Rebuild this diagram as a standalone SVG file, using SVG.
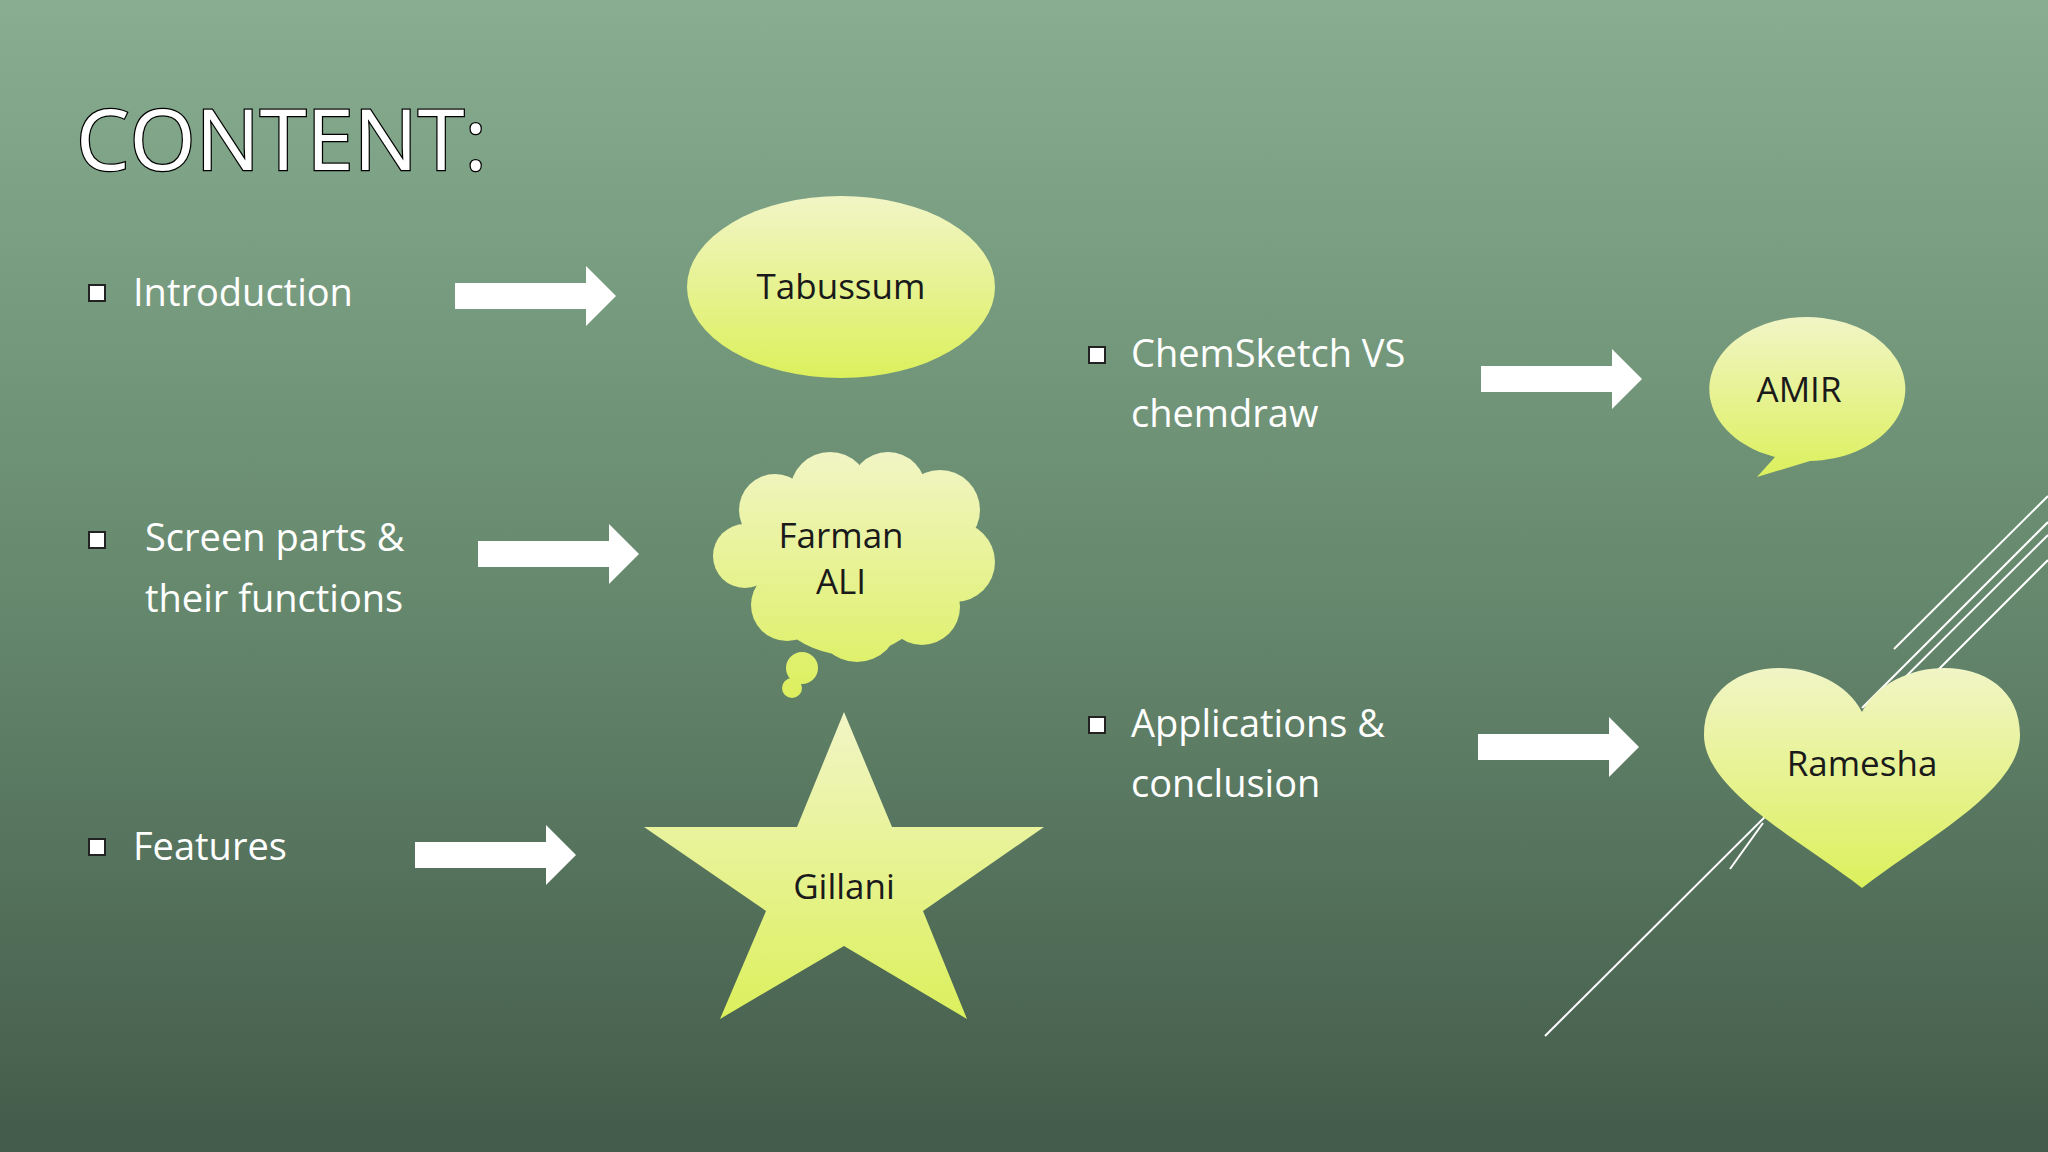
<svg xmlns="http://www.w3.org/2000/svg" width="2048" height="1152" viewBox="0 0 2048 1152">
<defs>
<linearGradient id="bg" x1="0" y1="0" x2="0" y2="1"><stop offset="0" stop-color="#88ad90"/><stop offset="0.5" stop-color="#678a6f"/><stop offset="1" stop-color="#435b4a"/></linearGradient>
<linearGradient id="sh" x1="0" y1="0" x2="0" y2="1"><stop offset="0" stop-color="#f1f5c6"/><stop offset="1" stop-color="#dcf05c"/></linearGradient>
<linearGradient id="cl" gradientUnits="userSpaceOnUse" x1="0" y1="450" x2="0" y2="700"><stop offset="0" stop-color="#f1f5c6"/><stop offset="1" stop-color="#dcf05c"/></linearGradient>
<polygon id="arr" points="0,-13 131,-13 131,-30 161,0 131,30 131,13 0,13" fill="#fff"/>
</defs>
<style>
.t{font-family:"Open Sans","Liberation Sans",sans-serif;fill:#fff;font-size:38px}
.n{font-family:"Open Sans","Liberation Sans",sans-serif;fill:#1a1a1a;font-size:35px;text-anchor:middle}
.b{fill:#fff;stroke:#222;stroke-width:2}
.dl{stroke:#fff;stroke-width:2}
</style>
<rect width="2048" height="1152" fill="url(#bg)"/>
<text x="76" y="170" font-family="Open Sans,Liberation Sans,sans-serif" font-size="85" fill="#fff" stroke="#000" stroke-width="2.5" paint-order="stroke">CONTENT:</text>
<g id="decor">
<line class="dl" x1="2048" y1="496" x2="1894" y2="649"/>
<line class="dl" x1="2048" y1="522" x2="1862" y2="708"/>
<line class="dl" x1="2048" y1="560" x2="1900" y2="708"/>
<line class="dl" x1="2048" y1="535" x2="1545" y2="1036"/>
<line class="dl" x1="1763" y1="823" x2="1730" y2="869"/>
</g>
<g id="connectors">
<use href="#arr" x="455" y="296"/>
<use href="#arr" x="478" y="554"/>
<use href="#arr" x="415" y="855"/>
<use href="#arr" x="1481" y="379"/>
<use href="#arr" x="1478" y="747"/>
</g>
<g id="intro"><rect class="b" x="89" y="285" width="16" height="16"/><text class="t" x="133" y="306">Introduction</text></g>
<g id="screen"><rect class="b" x="89" y="532" width="16" height="16"/><text class="t" x="145" y="551">Screen parts &amp;</text><text class="t" x="145" y="612">their functions</text></g>
<g id="features"><rect class="b" x="89" y="839" width="16" height="16"/><text class="t" x="133" y="860">Features</text></g>
<g id="chem"><rect class="b" x="1089" y="347" width="16" height="16"/><text class="t" x="1131" y="367">ChemSketch VS</text><text class="t" x="1131" y="427">chemdraw</text></g>
<g id="apps"><rect class="b" x="1089" y="717" width="16" height="16"/><text class="t" x="1131" y="737">Applications &amp;</text><text class="t" x="1131" y="797">conclusion</text></g>
<g id="tabussum"><ellipse cx="841" cy="287" rx="154" ry="91" fill="url(#sh)"/><text class="n" x="841" y="299">Tabussum</text></g>
<g id="farman">
<g fill="url(#cl)">
<circle cx="849" cy="560" r="95"/>
<circle cx="775" cy="510" r="36"/><circle cx="830" cy="492" r="40"/><circle cx="888" cy="490" r="38"/><circle cx="940" cy="510" r="40"/>
<circle cx="955" cy="562" r="40"/><circle cx="922" cy="607" r="38"/><circle cx="857" cy="620" r="42"/><circle cx="787" cy="605" r="36"/>
<circle cx="745" cy="556" r="32"/><circle cx="802" cy="668" r="16"/><circle cx="792" cy="688" r="10"/>
</g>
<text class="n" x="841" y="548">Farman</text><text class="n" x="841" y="594">ALI</text></g>
<g id="gillani"><polygon points="844,712 892,827 1044,827 923,911 967,1019 844,946 720,1019 766,911 644,827 797,827" fill="url(#sh)"/><text class="n" x="844" y="899">Gillani</text></g>
<g id="amir"><path d="M1757,477 L1775,457 A98,72 0 1 1 1810,461 Z" fill="url(#sh)"/><text class="n" x="1799" y="402">AMIR</text></g>
<g id="ramesha"><path d="M1862,712 C1830,650 1704,650 1704,735 C1704,790 1800,840 1862,888 C1924,840 2020,790 2020,735 C2020,650 1894,650 1862,712 Z" fill="url(#sh)"/><text class="n" x="1862" y="776">Ramesha</text></g>
</svg>
